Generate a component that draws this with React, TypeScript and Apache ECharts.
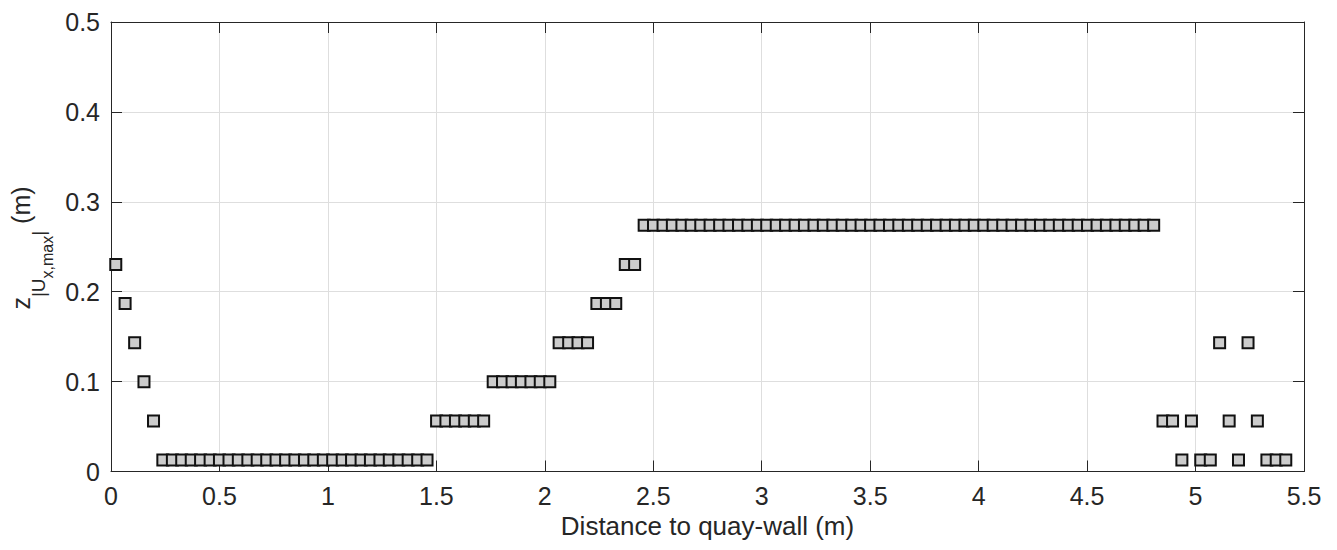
import React, { useEffect, useRef } from "react";
import * as echarts from "echarts";

// Distance to quay-wall (m) of each measured point
const distance: number[] = [
  0.022, 0.065, 0.109, 0.152, 0.196, 0.239, 0.283, 0.326, 0.37, 0.413,
  0.457, 0.5, 0.544, 0.587, 0.631, 0.674, 0.718, 0.761, 0.805, 0.848,
  0.892, 0.935, 0.979, 1.022, 1.066, 1.109, 1.153, 1.196, 1.24, 1.283,
  1.327, 1.37, 1.414, 1.457, 1.501, 1.544, 1.588, 1.631, 1.675, 1.718,
  1.762, 1.805, 1.849, 1.892, 1.936, 1.979, 2.023, 2.066, 2.11, 2.153,
  2.197, 2.24, 2.284, 2.327, 2.371, 2.414, 2.458, 2.501, 2.545, 2.588,
  2.632, 2.675, 2.719, 2.762, 2.806, 2.849, 2.893, 2.936, 2.98, 3.023,
  3.067, 3.11, 3.154, 3.197, 3.241, 3.284, 3.328, 3.371, 3.415, 3.458,
  3.502, 3.545, 3.589, 3.632, 3.676, 3.719, 3.763, 3.806, 3.85, 3.893,
  3.937, 3.98, 4.024, 4.067, 4.111, 4.154, 4.198, 4.241, 4.285, 4.328,
  4.372, 4.415, 4.459, 4.502, 4.546, 4.589, 4.633, 4.676, 4.72, 4.763,
  4.807, 4.85, 4.894, 4.937, 4.981, 5.024, 5.068, 5.111, 5.155, 5.198,
  5.242, 5.285, 5.329, 5.372, 5.416,
];

// Elevation of |Ux,max| (m) at each point
const zUxMax: number[] = [
  0.2303, 0.1868, 0.1433, 0.0998, 0.0563,
  0.0128, 0.0128, 0.0128, 0.0128, 0.0128, 0.0128, 0.0128, 0.0128, 0.0128, 0.0128,
  0.0128, 0.0128, 0.0128, 0.0128, 0.0128, 0.0128, 0.0128, 0.0128, 0.0128, 0.0128,
  0.0128, 0.0128, 0.0128, 0.0128, 0.0128, 0.0128, 0.0128, 0.0128, 0.0128,
  0.0563, 0.0563, 0.0563, 0.0563, 0.0563, 0.0563,
  0.0998, 0.0998, 0.0998, 0.0998, 0.0998, 0.0998, 0.0998,
  0.1433, 0.1433, 0.1433, 0.1433,
  0.1868, 0.1868, 0.1868,
  0.2303, 0.2303,
  0.2738, 0.2738, 0.2738, 0.2738, 0.2738, 0.2738, 0.2738, 0.2738, 0.2738, 0.2738,
  0.2738, 0.2738, 0.2738, 0.2738, 0.2738, 0.2738, 0.2738, 0.2738, 0.2738, 0.2738,
  0.2738, 0.2738, 0.2738, 0.2738, 0.2738, 0.2738, 0.2738, 0.2738, 0.2738, 0.2738,
  0.2738, 0.2738, 0.2738, 0.2738, 0.2738, 0.2738, 0.2738, 0.2738, 0.2738, 0.2738,
  0.2738, 0.2738, 0.2738, 0.2738, 0.2738, 0.2738, 0.2738, 0.2738, 0.2738, 0.2738,
  0.2738, 0.2738, 0.2738, 0.2738, 0.2738,
  0.0563, 0.0563, 0.0128, 0.0563, 0.0128, 0.0128, 0.1433, 0.0563, 0.0128, 0.1433,
  0.0563, 0.0128, 0.0128, 0.0128,
];

const xAxisTitle = "Distance to quay-wall (m)";
// y axis title pieces: text, font size, baseline shift (subscripts)
const yTitleParts = [
  { text: "z", fs: 25, dy: 0 },
  { text: "|U", fs: 19, dy: 16 },
  { text: "x,max", fs: 16, dy: 24 },
  { text: "|", fs: 19, dy: 16 },
  { text: " (m)", fs: 25, dy: 0 },
];

const FONT = '"Liberation Sans", Arial, Helvetica, sans-serif';
const TXT = "#262626";
const GRID = "#dedede";

export default function App() {
  const ref = useRef<HTMLDivElement>(null);
  useEffect(() => {
    document.body.style.margin = "0";
    const chart = echarts.init(ref.current!, null, { renderer: "svg" });

    const ctx = document.createElement("canvas").getContext("2d")!;
    const widths = yTitleParts.map((p) => {
      ctx.font = `${p.fs}px "Liberation Sans"`;
      return ctx.measureText(p.text).width;
    });
    const total = widths.reduce((a, b) => a + b, 0);
    let cursor = -total / 2;
    const titleChildren = yTitleParts.map((p, i) => {
      const el = {
        type: "text",
        x: cursor,
        y: p.dy - 0.3 * p.fs,
        style: {
          text: p.text,
          fontSize: p.fs,
          fontFamily: FONT,
          fill: TXT,
          align: "left",
          verticalAlign: "middle",
        },
      };
      cursor += widths[i];
      return el;
    });

    const axisCommon = {
      type: "value",
      axisLine: { show: true, onZero: false, lineStyle: { color: TXT, width: 1 } },
      axisTick: { show: true, inside: true, length: 11, lineStyle: { color: TXT, width: 1 } },
    };

    chart.setOption({
      animation: false,
      textStyle: { fontFamily: FONT },
      grid: { left: 111, right: 33, top: 22, bottom: 78.5, containLabel: false },
      xAxis: [
        {
          ...axisCommon,
          position: "bottom",
          min: 0,
          max: 5.5,
          interval: 0.5,
          axisLabel: { fontSize: 25, color: TXT, margin: 12, fontFamily: FONT },
          splitLine: { show: true, lineStyle: { color: GRID, width: 1 } },
          name: xAxisTitle,
          nameLocation: "middle",
          nameGap: 36,
          nameTextStyle: { fontSize: 26, color: TXT, fontFamily: FONT },
        },
        {
          ...axisCommon,
          position: "top",
          min: 0,
          max: 5.5,
          interval: 0.5,
          axisLabel: { show: false },
          splitLine: { show: false },
        },
      ],
      yAxis: [
        {
          ...axisCommon,
          position: "left",
          min: 0,
          max: 0.5,
          interval: 0.1,
          axisLabel: { fontSize: 25, color: TXT, margin: 11, fontFamily: FONT },
          splitLine: { show: true, lineStyle: { color: GRID, width: 1 } },
        },
        {
          ...axisCommon,
          position: "right",
          min: 0,
          max: 0.5,
          interval: 0.1,
          axisLabel: { show: false },
          splitLine: { show: false },
        },
      ],
      graphic: [
        {
          type: "group",
          x: 28,
          y: 248,
          rotation: Math.PI / 2,
          children: titleChildren,
        },
      ],
      series: [
        {
          type: "scatter",
          xAxisIndex: 0,
          yAxisIndex: 0,
          symbol: "rect",
          symbolSize: 11,
          data: distance.map((d, i) => [d, zUxMax[i]]),
          itemStyle: { color: "#cccccc", borderColor: "#111111", borderWidth: 2, opacity: 1 },
          emphasis: { disabled: true },
        },
      ],
    });
    return () => chart.dispose();
  }, []);
  return <div ref={ref} style={{ width: 1337, height: 550 }} />;
}
